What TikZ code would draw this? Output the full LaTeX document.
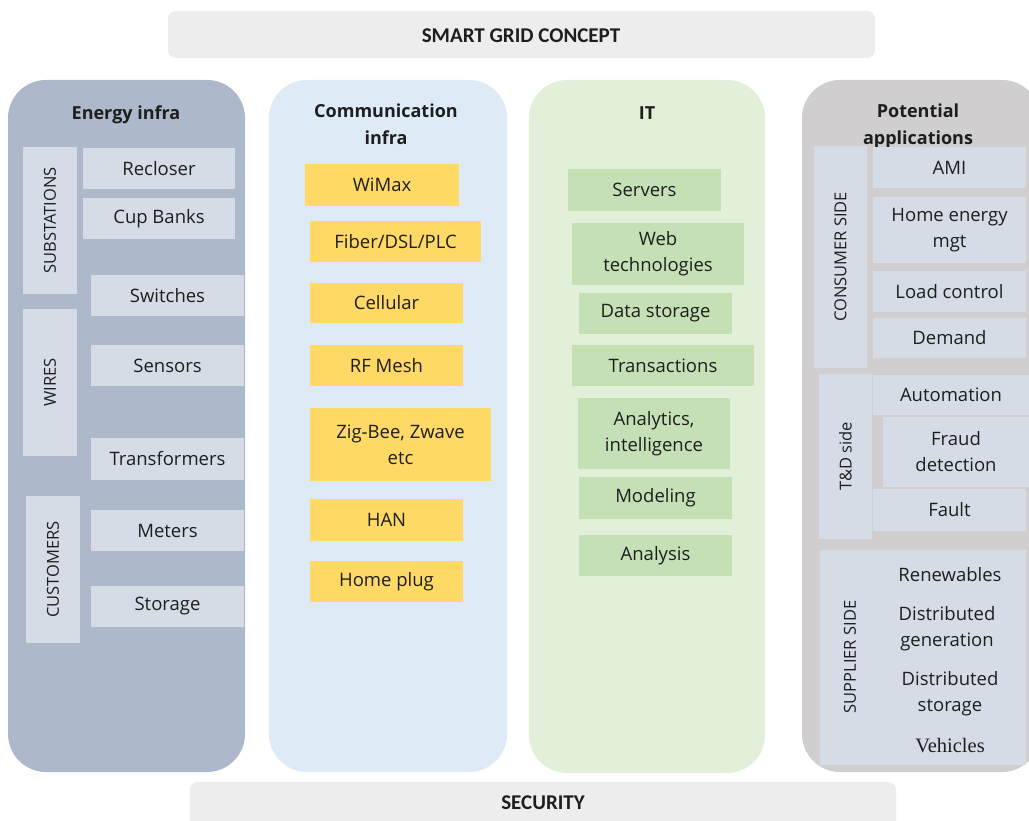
\documentclass[tikz,border=0pt]{standalone}
\usepackage{fontspec}
\setmainfont{Open Sans}
\newfontfamily\barfont{Carlito}
\newfontfamily\timesfont{Liberation Serif}
\usetikzlibrary{positioning}

\definecolor{energyblue}{HTML}{ADB9CA}
\definecolor{itemgrey}{HTML}{D6DCE5}
\definecolor{commblue}{HTML}{DEEBF7}
\definecolor{gold}{HTML}{FFD966}
\definecolor{itgreen}{HTML}{E2F0D9}
\definecolor{leafgreen}{HTML}{C5E0B4}
\definecolor{appsgrey}{HTML}{D0CECE}
\definecolor{barlight}{HTML}{EDEDED}
\definecolor{inktext}{HTML}{1E1E1E}

\tikzset{
  lane/.style={rounded corners=38pt},
  lanetitle/.style={font=\bfseries\fontsize{18}{27}\selectfont, text=inktext, align=center},
  bartitle/.style={font=\barfont\bfseries\fontsize{21}{25}\selectfont, text=inktext},
  item/.style={inner sep=0pt, align=center, text=inktext, font=\fontsize{18.5}{26}\selectfont},
  greyitem/.style={item, fill=itemgrey},
  golditem/.style={item, fill=gold},
  greenitem/.style={item, fill=leafgreen},
  sidelabel/.style={item, fill=itemgrey, rotate=90, font=\fontsize{16.5}{20}\selectfont},
  wh/.style 2 args={minimum width=#1, minimum height=#2},
}

\begin{document}
\begin{tikzpicture}[x=1pt,y=-1pt]
  \fill[white] (0,0) rectangle (1029,821);
  \useasboundingbox (0,0) rectangle (1029,821);

  % title and security bars
  \fill[barlight, rounded corners=8pt] (168,11) rectangle (875,58);
  \node[bartitle] (concept) at (521,36) {SMART GRID CONCEPT};
  \fill[barlight, rounded corners=8pt] (190,782) rectangle (896,840);
  \node[bartitle] (security) at (543,803) {SECURITY};

  % the four lanes
  \fill[energyblue, lane] (8,80) rectangle (245,772);
  \fill[commblue, lane] (269,80) rectangle (507,772);
  \fill[itgreen, lane] (529,80) rectangle (765,773);
  \fill[appsgrey, lane] (802,80) rectangle (1040,772);

  % energy infra
  \node[lanetitle] (energy) at (126,115) {Energy infra};
  \node[sidelabel, wh={147}{54}] (substations) at (50,220.5) {SUBSTATIONS};
  \node[greyitem, wh={152}{41}] (recloser) at (159,168.5) {Recloser};
  \node[greyitem, wh={152}{41}] (cupbanks) at (159,218.5) {Cup Banks};
  \node[greyitem, wh={153}{41}] (switches) at (167.5,295.5) {Switches};
  \node[sidelabel, wh={147}{54}] (wires) at (50,382.5) {WIRES};
  \node[greyitem, wh={153}{41}] (sensors) at (167.5,365.5) {Sensors};
  \node[greyitem, wh={153}{42}] (transformers) at (167.5,459) {Transformers};
  \node[sidelabel, wh={147}{54}] (customers) at (53,569.5) {CUSTOMERS};
  \node[greyitem, wh={153}{41}] (meters) at (167.5,530.5) {Meters};
  \node[greyitem, wh={153}{41}] (storage) at (167.5,606.5) {Storage};

  % communication infra
  \node[lanetitle] (comm) at (386,124.5) {Communication\\infra};
  \node[golditem, wh={154}{42}] (wimax) at (382,185) {WiMax};
  \node[golditem, wh={171}{41}] (fiber) at (395.5,241.5) {Fiber/DSL/PLC};
  \node[golditem, wh={153}{40}] (cellular) at (386.5,303) {Cellular};
  \node[golditem, wh={153}{41}] (rfmesh) at (386.5,365.5) {RF Mesh};
  \node[golditem, wh={181}{73}] (zigbee) at (400.5,444.5) {Zig-Bee, Zwave\\etc};
  \node[golditem, wh={153}{42}] (han) at (386.5,520) {HAN};
  \node[golditem, wh={153}{41}] (homeplug) at (386.5,581.5) {Home plug};

  % IT
  \node[lanetitle] (it) at (647,113) {IT};
  \node[greenitem, wh={153}{42}] (servers) at (644.5,190) {Servers};
  \node[greenitem, wh={172}{62}] (webtech) at (658,254) {Web\\technologies};
  \node[greenitem, wh={153}{41}] (datastorage) at (655.5,313.5) {Data storage};
  \node[greenitem, wh={182}{41}] (transactions) at (663,365.5) {Transactions};
  \node[greenitem, wh={152}{71}] (analytics) at (654,433.5) {Analytics,\\intelligence};
  \node[greenitem, wh={153}{42}] (modeling) at (655.5,498) {Modeling};
  \node[greenitem, wh={153}{41}] (analysis) at (655.5,555.5) {Analysis};

  % potential applications
  \node[lanetitle] (apps) at (918,126.5) {Potential\\applications};
  \node[sidelabel, wh={222}{53}] (consumer) at (840.5,257) {CONSUMER SIDE};
  \node[greyitem, wh={153}{41}] (ami) at (949.5,167.5) {AMI};
  \node[greyitem, wh={153}{66}] (homeenergy) at (949.5,230) {Home energy\\mgt};
  \node[greyitem, wh={153}{41}] (loadcontrol) at (949.5,291.5) {Load control};
  \node[greyitem, wh={153}{40}] (demand) at (949.5,338) {Demand};
  \node[sidelabel, wh={165}{53}] (tdside) at (845.5,456.5) {T\&D side};
  \node[greyitem, wh={156}{40}] (automation) at (951,395) {Automation};
  \node[greyitem, wh={146}{70}] (fraud) at (956,452) {Fraud\\detection};
  \node[greyitem, wh={153}{42}] (fault) at (949.5,510) {Fault};
  \node[greyitem, wh={206}{215}] (supplier) at (923,657.5) {};
  \node[item, rotate=90, font=\fontsize{16.5}{20}\selectfont] (supplierlabel) at (850,657) {SUPPLIER SIDE};
  \node[item] (renewables) at (950,575) {Renewables};
  \node[item] (distgen) at (947,629) {Distributed\\generation};
  \node[item] (diststorage) at (950,693.5) {Distributed\\storage};
  \node[item, font=\timesfont\fontsize{20.5}{24}\selectfont] (vehicles) at (950,746) {Vehicles};
\end{tikzpicture}
\end{document}
